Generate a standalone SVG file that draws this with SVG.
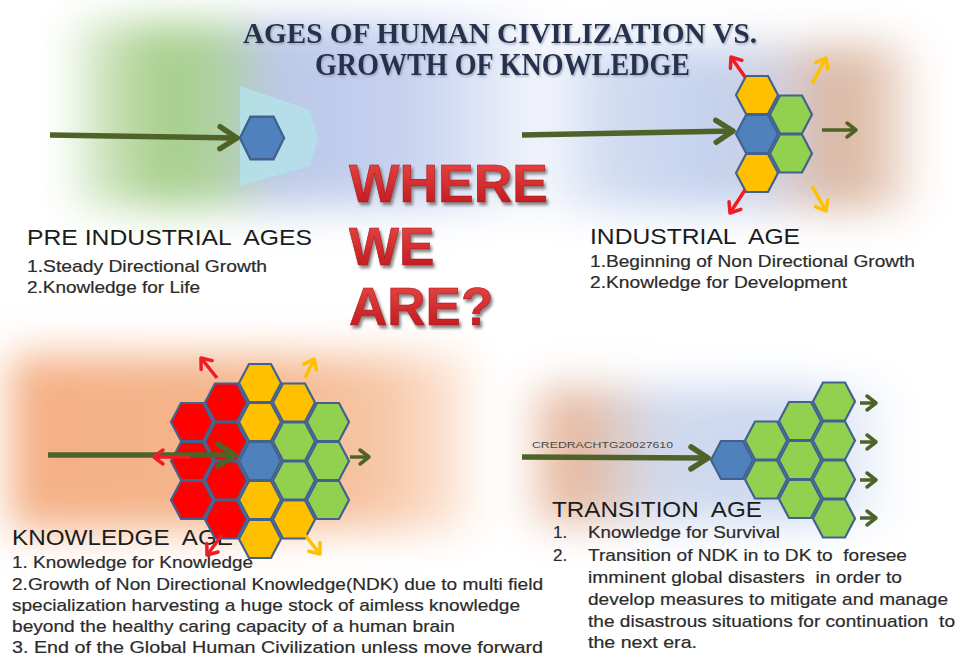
<svg xmlns="http://www.w3.org/2000/svg" xmlns:xlink="http://www.w3.org/1999/xlink" width="959" height="658" viewBox="0 0 959 658">
<style>
.body{font-family:"Liberation Sans",Arial,sans-serif;font-size:17px;fill:#2b2b2b;stroke:#2b2b2b;stroke-width:0.2}
.head{font-family:"Liberation Sans",Arial,sans-serif;font-size:22px;fill:#1c1c1c}
.title{font-family:"Liberation Serif","Times New Roman",serif;font-weight:bold;fill:#27324e}
.where{font-family:"Liberation Sans",Arial,sans-serif;font-weight:bold;font-size:53px;fill:url(#gRed);stroke:#a8161d;stroke-width:0.6}
.hex{stroke:#41628f;stroke-width:2.2}
.hy{fill:#ffc000}.hg{fill:#92d050}.hr{fill:#fe0000}.hb{fill:#4f81bd}
.main{fill:none;stroke:#4f6228;stroke-width:5.5}
.sm{fill:none;stroke-width:3.5}
.red{stroke:#ee1c25}.yel{stroke:#ffc000}.olv{stroke:#4f6228}
</style>
<defs>
<filter id="blur" x="-30%" y="-30%" width="160%" height="160%"><feGaussianBlur stdDeviation="20"/></filter>
<filter id="shRed" x="-10%" y="-10%" width="130%" height="140%"><feDropShadow dx="2" dy="3" stdDeviation="1.6" flood-color="#6a6a6a" flood-opacity="0.8"/></filter>
<filter id="shTitle" x="-5%" y="-20%" width="110%" height="150%"><feDropShadow dx="1" dy="1.5" stdDeviation="0.8" flood-color="#8e98ad" flood-opacity="0.8"/></filter>
<linearGradient id="gRed" x1="0" y1="0" x2="0" y2="1"><stop offset="0" stop-color="#ec4a45"/><stop offset="1" stop-color="#bb141c"/></linearGradient>
<linearGradient id="gTL" gradientUnits="userSpaceOnUse" x1="60" y1="0" x2="560" y2="0">
<stop offset="0" stop-color="#ffffff"/><stop offset="0.07" stop-color="#d2e7c5"/><stop offset="0.2" stop-color="#a6cf89"/><stop offset="0.33" stop-color="#b0d2a2"/><stop offset="0.42" stop-color="#bac7e8"/><stop offset="0.7" stop-color="#c6d2ef"/><stop offset="0.9" stop-color="#e7ecf8"/><stop offset="1" stop-color="#ffffff"/>
</linearGradient>
<linearGradient id="gTR" gradientUnits="userSpaceOnUse" x1="545" y1="0" x2="925" y2="0">
<stop offset="0" stop-color="#f3f6fb"/><stop offset="0.15" stop-color="#d3ddf2"/><stop offset="0.45" stop-color="#c3d2ee"/><stop offset="0.62" stop-color="#d3cfdc"/><stop offset="0.76" stop-color="#dbb6a0"/><stop offset="0.88" stop-color="#e3c6b3"/><stop offset="1" stop-color="#ffffff"/>
</linearGradient>
<linearGradient id="gBL" gradientUnits="userSpaceOnUse" x1="20" y1="0" x2="470" y2="0">
<stop offset="0" stop-color="#f4b086"/><stop offset="0.55" stop-color="#f4b58c"/><stop offset="0.82" stop-color="#f7c8a8"/><stop offset="1" stop-color="#fdebdf"/>
</linearGradient>
<linearGradient id="gBR" gradientUnits="userSpaceOnUse" x1="520" y1="0" x2="900" y2="0">
<stop offset="0" stop-color="#ffffff"/><stop offset="0.1" stop-color="#e6b497"/><stop offset="0.22" stop-color="#e1c4b6"/><stop offset="0.36" stop-color="#d0d9ee"/><stop offset="0.75" stop-color="#cbd8f0"/><stop offset="1" stop-color="#ffffff"/>
</linearGradient>
<path id="hx" d="M-21,0 L-11,-19 L11,-19 L21,0 L11,19 L-11,19 Z"/>
<marker id="mBig" markerUnits="userSpaceOnUse" markerWidth="30" markerHeight="30" refX="0" refY="0" orient="auto" overflow="visible">
<path d="M-17,-11 L0,0 L-17,11" fill="none" stroke="#4f6228" stroke-width="5.5" stroke-linecap="round" stroke-linejoin="round"/>
</marker>
<marker id="mOlv" markerUnits="userSpaceOnUse" markerWidth="20" markerHeight="20" refX="0" refY="0" orient="auto" overflow="visible">
<path d="M-9,-7 L0,0 L-9,7" fill="none" stroke="#4f6228" stroke-width="3.5" stroke-linecap="round" stroke-linejoin="round"/>
</marker>
<marker id="mRed" markerUnits="userSpaceOnUse" markerWidth="20" markerHeight="20" refX="0" refY="0" orient="auto" overflow="visible">
<path d="M-9,-7 L0,0 L-9,7" fill="none" stroke="#ee1c25" stroke-width="3.5" stroke-linecap="round" stroke-linejoin="round"/>
</marker>
<marker id="mYel" markerUnits="userSpaceOnUse" markerWidth="20" markerHeight="20" refX="0" refY="0" orient="auto" overflow="visible">
<path d="M-9,-7 L0,0 L-9,7" fill="none" stroke="#ffc000" stroke-width="3.5" stroke-linecap="round" stroke-linejoin="round"/>
</marker>
</defs>

<rect width="959" height="658" fill="#ffffff"/>
<g id="background" filter="url(#blur)">
<rect x="70" y="22" width="480" height="185" fill="url(#gTL)"/>
<rect x="545" y="45" width="380" height="165" fill="url(#gTR)"/>
<rect x="10" y="355" width="460" height="175" fill="url(#gBL)"/>
<rect x="520" y="388" width="380" height="135" fill="url(#gBR)"/>
</g>

<g id="title" class="title" filter="url(#shTitle)">
<text x="243" y="43" font-size="30" textLength="514" lengthAdjust="spacingAndGlyphs">AGES OF HUMAN CIVILIZATION VS.</text>
<text x="315" y="75" font-size="32" textLength="375" lengthAdjust="spacingAndGlyphs">GROWTH OF KNOWLEDGE</text>
</g>

<g id="where-we-are" class="where" filter="url(#shRed)">
<text x="349" y="202" textLength="199" lengthAdjust="spacingAndGlyphs">WHERE</text>
<text x="349" y="265">WE</text>
<text x="349" y="325">ARE?</text>
</g>

<g id="pre-industrial">
<polygon points="240,86 310,110 318,138 310,166 240,186" fill="#b4e2ea" opacity="0.85"/>
<use xlink:href="#hx" class="hex hb" transform="translate(262,138) scale(1.05,1.12)"/>
<text class="head" x="27" y="245" textLength="285" lengthAdjust="spacingAndGlyphs" xml:space="preserve">PRE INDUSTRIAL  AGES</text>
<text class="body" x="27" y="272" textLength="240" lengthAdjust="spacingAndGlyphs">1.Steady Directional Growth</text>
<text class="body" x="27" y="293" textLength="173" lengthAdjust="spacingAndGlyphs">2.Knowledge for Life</text>
</g>

<g id="industrial">
<text class="head" x="590" y="244" textLength="210" lengthAdjust="spacingAndGlyphs" xml:space="preserve">INDUSTRIAL  AGE</text>
<text class="body" x="590" y="267" textLength="325" lengthAdjust="spacingAndGlyphs">1.Beginning of Non Directional Growth</text>
<text class="body" x="590" y="288" textLength="257" lengthAdjust="spacingAndGlyphs">2.Knowledge for Development</text>
<g id="industrial-hexes" class="hex">
<use xlink:href="#hx" class="hy" x="757" y="95"/>
<use xlink:href="#hx" class="hg" x="791" y="114.5"/>
<use xlink:href="#hx" class="hb" x="757" y="134"/>
<use xlink:href="#hx" class="hg" x="791" y="153.5"/>
<use xlink:href="#hx" class="hy" x="757" y="173"/>
</g>
</g>

<g id="knowledge">
<text class="head" x="12" y="545" textLength="221" lengthAdjust="spacingAndGlyphs" xml:space="preserve">KNOWLEDGE  AGE</text>
<text class="body" x="12" y="568" textLength="241" lengthAdjust="spacingAndGlyphs">1. Knowledge for Knowledge</text>
<text class="body" x="12" y="590" textLength="531" lengthAdjust="spacingAndGlyphs">2.Growth of Non Directional Knowledge(NDK) due to multi field</text>
<text class="body" x="12" y="611" textLength="508" lengthAdjust="spacingAndGlyphs">specialization harvesting a huge stock of aimless knowledge</text>
<text class="body" x="12" y="632" textLength="443" lengthAdjust="spacingAndGlyphs">beyond the healthy caring capacity of a human brain</text>
<text class="body" x="12" y="653" textLength="531" lengthAdjust="spacingAndGlyphs">3. End of the Global Human Civilization unless move forward</text>
<g id="knowledge-hexes" class="hex">
<use xlink:href="#hx" class="hr" x="192" y="422"/>
<use xlink:href="#hx" class="hr" x="192" y="461"/>
<use xlink:href="#hx" class="hr" x="192" y="500"/>
<use xlink:href="#hx" class="hr" x="226" y="402.5"/>
<use xlink:href="#hx" class="hr" x="226" y="441.5"/>
<use xlink:href="#hx" class="hr" x="226" y="480.5"/>
<use xlink:href="#hx" class="hr" x="226" y="519.5"/>
<use xlink:href="#hx" class="hy" x="260" y="383"/>
<use xlink:href="#hx" class="hy" x="260" y="422"/>
<use xlink:href="#hx" class="hb" x="260" y="461"/>
<use xlink:href="#hx" class="hy" x="260" y="500"/>
<use xlink:href="#hx" class="hy" x="260" y="539"/>
<use xlink:href="#hx" class="hy" x="294" y="402.5"/>
<use xlink:href="#hx" class="hg" x="294" y="441.5"/>
<use xlink:href="#hx" class="hg" x="294" y="480.5"/>
<use xlink:href="#hx" class="hy" x="294" y="519.5"/>
<use xlink:href="#hx" class="hg" x="328" y="422"/>
<use xlink:href="#hx" class="hg" x="328" y="461"/>
<use xlink:href="#hx" class="hg" x="328" y="500"/>
</g>
</g>

<g id="transition">
<text x="532" y="448" font-family="Liberation Sans, Arial, sans-serif" font-size="9.5" fill="#4a4a4a" textLength="141" lengthAdjust="spacingAndGlyphs">CREDRACHTG20027610</text>
<text class="head" x="552" y="517" textLength="210" lengthAdjust="spacingAndGlyphs" xml:space="preserve">TRANSITION  AGE</text>
<text class="body" x="553" y="538">1.</text>
<text class="body" x="588" y="538" textLength="192" lengthAdjust="spacingAndGlyphs">Knowledge for Survival</text>
<text class="body" x="553" y="561">2.</text>
<text class="body" x="588" y="561" textLength="319" lengthAdjust="spacingAndGlyphs" xml:space="preserve">Transition of NDK in to DK to  foresee</text>
<text class="body" x="588" y="583" textLength="314" lengthAdjust="spacingAndGlyphs" xml:space="preserve">imminent global disasters  in order to</text>
<text class="body" x="588" y="605" textLength="360" lengthAdjust="spacingAndGlyphs">develop measures to mitigate and manage</text>
<text class="body" x="588" y="627" textLength="367" lengthAdjust="spacingAndGlyphs" xml:space="preserve">the disastrous situations for continuation  to</text>
<text class="body" x="588" y="648" textLength="109" lengthAdjust="spacingAndGlyphs">the next era.</text>
<g id="transition-hexes" class="hex">
<use xlink:href="#hx" class="hb" x="732" y="460"/>
<use xlink:href="#hx" class="hg" x="766" y="440.5"/>
<use xlink:href="#hx" class="hg" x="766" y="479.5"/>
<use xlink:href="#hx" class="hg" x="800" y="421"/>
<use xlink:href="#hx" class="hg" x="800" y="460"/>
<use xlink:href="#hx" class="hg" x="800" y="499"/>
<use xlink:href="#hx" class="hg" x="834" y="401.5"/>
<use xlink:href="#hx" class="hg" x="834" y="440.5"/>
<use xlink:href="#hx" class="hg" x="834" y="479.5"/>
<use xlink:href="#hx" class="hg" x="834" y="518.5"/>
</g>
</g>

<g id="connectors">
<path class="main" d="M50,135 L237,138" marker-end="url(#mBig)"/>
<path class="main" d="M522,135 L733,131" marker-end="url(#mBig)"/>
<path class="main" d="M48,455 L235,455" marker-end="url(#mBig)"/>
<path class="main" d="M522,457 L708,458" marker-end="url(#mBig)"/>
<path class="sm red" d="M745,77 L731,57" marker-end="url(#mRed)"/>
<path class="sm red" d="M745,190 L730,213" marker-end="url(#mRed)"/>
<path class="sm yel" d="M812,84 L826,58" marker-end="url(#mYel)"/>
<path class="sm yel" d="M812,186 L826,211" marker-end="url(#mYel)"/>
<path class="sm olv" d="M822,130 L856,130" marker-end="url(#mOlv)"/>
<path class="sm red" d="M217,378 L201,358" marker-end="url(#mRed)"/>
<path class="sm red" d="M190,457 L154,457" marker-end="url(#mRed)"/>
<path class="sm red" d="M222,535 L207,555" marker-end="url(#mRed)"/>
<path class="sm yel" d="M305,378 L314,359" marker-end="url(#mYel)"/>
<path class="sm yel" d="M305,535 L320,554" marker-end="url(#mYel)"/>
<path class="sm olv" d="M350,457 L369,457" marker-end="url(#mOlv)"/>
<path class="sm olv" d="M860,403 L876,403" marker-end="url(#mOlv)"/>
<path class="sm olv" d="M860,442 L876,442" marker-end="url(#mOlv)"/>
<path class="sm olv" d="M860,480 L876,480" marker-end="url(#mOlv)"/>
<path class="sm olv" d="M860,518 L876,518" marker-end="url(#mOlv)"/>
</g>
</svg>
